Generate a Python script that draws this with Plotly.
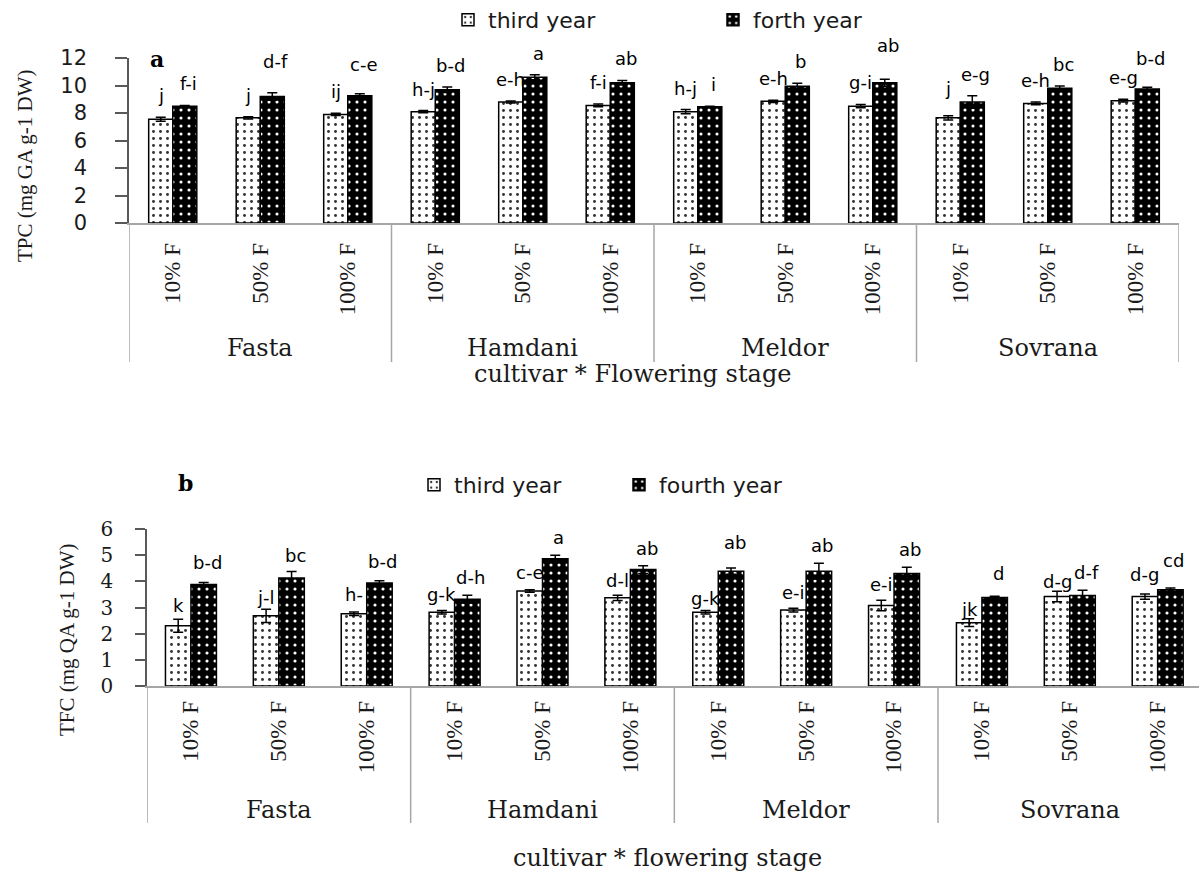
import plotly.graph_objects as go

# ---- data ----
stages = ["10% F", "50% F", "100% F"]
cultivars = ["Fasta", "Hamdani", "Meldor", "Sovrana"]

# TPC (mg GA g-1 DW)
tpc_third = [7.55, 7.65, 7.9, 8.1, 8.8, 8.55, 8.1, 8.85, 8.5, 7.65, 8.7, 8.9]
tpc_third_err = [0.15, 0.08, 0.08, 0.08, 0.08, 0.1, 0.15, 0.08, 0.12, 0.15, 0.1, 0.1]
tpc_fourth = [8.5, 9.2, 9.25, 9.7, 10.6, 10.2, 8.45, 9.95, 10.2, 8.8, 9.8, 9.75]
tpc_fourth_err = [0.05, 0.28, 0.15, 0.2, 0.18, 0.17, 0.05, 0.22, 0.25, 0.45, 0.17, 0.12]
tpc_third_letters = ["j", "j", "ij", "h-j", "e-h", "f-i", "h-j", "e-h", "g-i", "j", "e-h", "e-g"]
tpc_fourth_letters = ["f-i", "d-f", "c-e", "b-d", "a", "ab", "i", "b", "ab", "e-g", "bc", "b-d"]

# TFC (mg QA g-1 DW)
tfc_third = [2.3, 2.68, 2.76, 2.82, 3.63, 3.37, 2.82, 2.9, 3.08, 2.42, 3.42, 3.42]
tfc_third_err = [0.25, 0.25, 0.07, 0.07, 0.05, 0.1, 0.07, 0.07, 0.2, 0.15, 0.2, 0.1]
tfc_fourth = [3.88, 4.13, 3.94, 3.32, 4.86, 4.45, 4.39, 4.39, 4.3, 3.38, 3.46, 3.68]
tfc_fourth_err = [0.08, 0.25, 0.08, 0.15, 0.14, 0.15, 0.12, 0.3, 0.24, 0.05, 0.2, 0.07]
tfc_third_letters = ["k", "j-l", "h-", "g-k", "c-e", "d-l", "g-k", "e-i", "e-i", "jk", "d-g", "d-g"]
tfc_fourth_letters = ["b-d", "bc", "b-d", "d-h", "a", "ab", "ab", "ab", "ab", "d", "d-f", "cd"]

# ---- layout helpers (pixel geometry of the 1199 x 874 canvas) ----
W, H = 1199, 874
def py(p):  # pixel row -> paper y
    return 1 - p / H
def px(p):  # pixel column -> paper x
    return p / W

# extra lift (px) of individual letter labels
tpc_lift_third = [0, 0, 0, 0, 0, 0, 0, 0, 0, 6, 0, 0]
tpc_lift_fourth = [0, 10, 8, 0, 0, 0, 0, 0, 12, 0, 0, 7]
tfc_lift_third = [-4, -6, 0, -2, 0, -3, -6, -2, -2, -8, -8, 2]
tfc_lift_fourth = [2, -2, 2, 0, 0, 0, 8, 0, 0, 5, 0, 10]

n = len(stages) * len(cultivars)
xs = list(range(n))
ticktext = stages * len(cultivars)

SANS = "DejaVu Sans"
SERIF = "Liberation Serif"
SERIF_WIDE = "DejaVu Serif"
INK = "#1a1a1a"

third_marker = dict(
    color="white",
    line=dict(color="black", width=1.5),
    pattern=dict(shape=".", fgcolor="#333333", bgcolor="white", size=7, solidity=0.14),
)
fourth_marker = dict(
    color="black",
    line=dict(color="black", width=1.5),
    pattern=dict(shape=".", fgcolor="white", bgcolor="black", size=8, solidity=0.12),
)

def err(arr):
    return dict(type="data", array=arr, color="black", thickness=1.5, width=5)

BARGAP_A = 0.45
BARGAP_B = 0.42
wa = (1 - BARGAP_A) / 2
wb = (1 - BARGAP_B) / 2

fig = go.Figure()

# ---- panel a : TPC ----
fig.add_trace(go.Bar(x=xs, y=tpc_third, error_y=err(tpc_third_err), name="third year",
                     width=wa, offset=-wa, marker=third_marker,
                     xaxis="x", yaxis="y", legend="legend"))
fig.add_trace(go.Bar(x=xs, y=tpc_fourth, error_y=err(tpc_fourth_err), name="forth year",
                     width=wa, offset=0, marker=fourth_marker,
                     xaxis="x", yaxis="y", legend="legend"))

# ---- panel b : TFC ----
fig.add_trace(go.Bar(x=xs, y=tfc_third, error_y=err(tfc_third_err), name="third year",
                     width=wb, offset=-wb, marker=third_marker,
                     xaxis="x2", yaxis="y2", legend="legend2"))
fig.add_trace(go.Bar(x=xs, y=tfc_fourth, error_y=err(tfc_fourth_err), name="fourth year",
                     width=wb, offset=0, marker=fourth_marker,
                     xaxis="x2", yaxis="y2", legend="legend2"))

annotations = []
shapes = []

def letter_labels(xref, yref, third, t_err, fourth, f_err, l3, l4, lift3, lift4, w, base):
    off = w / 2
    for i in range(n):
        annotations.append(dict(x=i - off, y=third[i] + t_err[i], xref=xref, yref=yref,
                                text=l3[i], showarrow=False, xanchor="center", yanchor="bottom",
                                yshift=base + lift3[i], font=dict(family=SANS, size=18, color="black")))
        annotations.append(dict(x=i + off + 0.04, y=fourth[i] + f_err[i], xref=xref, yref=yref,
                                text=l4[i], showarrow=False, xanchor="center", yanchor="bottom",
                                yshift=base + lift4[i], font=dict(family=SANS, size=18, color="black")))

letter_labels("x", "y", tpc_third, tpc_third_err, tpc_fourth, tpc_fourth_err,
              tpc_third_letters, tpc_fourth_letters, tpc_lift_third, tpc_lift_fourth, wa, 9)
letter_labels("x2", "y2", tfc_third, tfc_third_err, tfc_fourth, tfc_fourth_err,
              tfc_third_letters, tfc_fourth_letters, tfc_lift_third, tfc_lift_fourth, wb, 5)

# cultivar group boxes and names
def groups(xref, axis_px, bottom_px, name_px, xmax):
    for g in range(len(cultivars) + 1):
        xb = g * len(stages) - 0.5
        if xb > xmax:
            continue
        shapes.append(dict(type="line", xref=xref, yref="paper", x0=xb, x1=xb,
                           y0=py(axis_px), y1=py(bottom_px), line=dict(color="#a6a6a6", width=1.5)))
    for g, c in enumerate(cultivars):
        annotations.append(dict(x=g * len(stages) + 1, y=py(name_px), xref=xref, yref="paper",
                                text=c, showarrow=False, xanchor="center", yanchor="middle",
                                font=dict(family=SERIF_WIDE, size=24, color=INK)))

groups("x", 223, 362, 348, 11.5)
groups("x2", 686, 823, 810, 11.47)

# axis titles, panel letters
def note(x, y, text, font, angle=0):
    return dict(x=px(x), y=py(y), xref="paper", yref="paper", text=text, textangle=angle,
                showarrow=False, xanchor="center", yanchor="middle", font=font)

annotations += [
    note(632, 374, "cultivar * Flowering stage", dict(family=SERIF_WIDE, size=24, color=INK)),
    note(667, 858, "cultivar * flowering stage", dict(family=SERIF_WIDE, size=24, color=INK)),
    note(25, 166, "TPC (mg GA g-1 DW)", dict(family=SERIF, size=21, color=INK), -90),
    note(67, 640, "TFC (mg QA g-1 DW)", dict(family=SERIF, size=21, color=INK), -90),
    note(157, 59, "<b>a</b>", dict(family=SERIF_WIDE, size=22, color="black")),
    note(185, 483, "<b>b</b>", dict(family=SERIF_WIDE, size=22, color="black")),
]

xaxis_common = dict(
    tickmode="array", tickvals=xs, ticktext=ticktext, tickangle=-90,
    tickfont=dict(family=SERIF, size=23, color=INK),
    ticks="", showline=True, linecolor="#a6a6a6", linewidth=1.5,
    showgrid=False, zeroline=False, fixedrange=True, automargin=False,
)
yaxis_common = dict(
    ticks="outside", tickcolor="#595959", tickwidth=1.5,
    showline=True, linecolor="#595959", linewidth=1.5,
    showgrid=False, zeroline=False, fixedrange=True, automargin=False,
)

fig.update_layout(
    template="none",
    width=W, height=H,
    margin=dict(l=0, r=0, t=0, b=0, pad=0, autoexpand=False),
    paper_bgcolor="white", plot_bgcolor="white",
    barmode="overlay",
    showlegend=True,
    xaxis=dict(xaxis_common, domain=[px(129), px(1179)], range=[-0.5, 11.5],
               anchor="y", ticklabelstandoff=9),
    yaxis=dict(yaxis_common, domain=[py(223), py(58)], range=[0, 12], dtick=2, anchor="x",
               ticklen=12, tickfont=dict(family=SANS, size=21, color=INK), ticklabelstandoff=24),
    xaxis2=dict(xaxis_common, domain=[px(147), 1.0], range=[-0.5, 11.47],
                anchor="y2", ticklabelstandoff=4),
    yaxis2=dict(yaxis_common, domain=[py(686), py(529)], range=[0, 6], dtick=1, anchor="x2",
                ticklen=10, tickfont=dict(family=SERIF_WIDE, size=20, color=INK), ticklabelstandoff=18),
    legend=dict(orientation="h", x=px(448), y=py(20), xanchor="left", yanchor="middle",
                entrywidth=220, entrywidthmode="pixels",
                font=dict(family=SANS, size=22, color=INK), bgcolor="rgba(0,0,0,0)"),
    legend2=dict(orientation="h", x=px(414), y=py(485), xanchor="left", yanchor="middle",
                 entrywidth=160, entrywidthmode="pixels",
                 font=dict(family=SANS, size=22, color=INK), bgcolor="rgba(0,0,0,0)"),
    annotations=annotations,
    shapes=shapes,
)

fig.write_html("out.html")
